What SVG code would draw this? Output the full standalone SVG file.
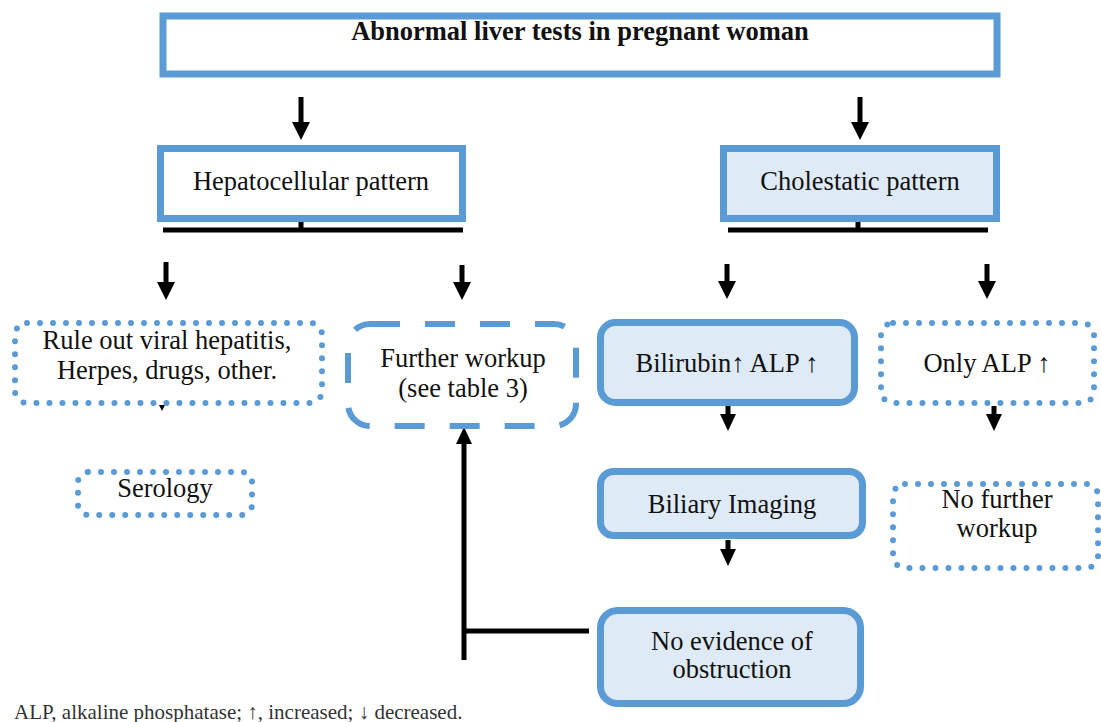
<svg xmlns="http://www.w3.org/2000/svg" width="1101" height="722" viewBox="0 0 1101 722">
<defs>
<style>
.t{font-family:"Liberation Serif","Times New Roman",serif;font-size:26.5px;fill:#111;text-anchor:middle}
.solid{fill:#fff;stroke:#5b9bd5;stroke-width:7}
.filled{fill:#deeaf6;stroke:#5b9bd5;stroke-width:7}
.dot{fill:#fff;stroke:#5b9bd5;stroke-width:6;stroke-dasharray:0 13;stroke-linecap:round}
.dash{fill:#fff;stroke:#5b9bd5;stroke-width:6;stroke-dasharray:30 25}
.c{stroke:#000;stroke-width:5;fill:none}
</style>
<marker id="ah" markerUnits="userSpaceOnUse" markerWidth="18" markerHeight="18" refX="0" refY="9" orient="auto" overflow="visible">
<path d="M0,0 L18,9 L0,18 Z" fill="#000"/>
</marker>
<marker id="ahs" markerUnits="userSpaceOnUse" markerWidth="17" markerHeight="16" refX="0" refY="8" orient="auto" overflow="visible">
<path d="M0,0 L17,8 L0,16 Z" fill="#000"/>
</marker>
</defs>
<rect width="1101" height="722" fill="#fff"/>

<g id="connectors">
<line class="c" x1="301" y1="97" x2="301" y2="122" marker-end="url(#ah)"/>
<line class="c" x1="860" y1="97" x2="860" y2="122" marker-end="url(#ah)"/>
<line class="c" x1="301" y1="222" x2="301" y2="230"/>
<line class="c" x1="163" y1="230" x2="463" y2="230"/>
<line class="c" x1="858" y1="222" x2="858" y2="230"/>
<line class="c" x1="728" y1="230" x2="988" y2="230"/>
<line class="c" x1="166" y1="262" x2="166" y2="282" marker-end="url(#ah)"/>
<line class="c" x1="462" y1="265" x2="462" y2="282" marker-end="url(#ah)"/>
<line class="c" x1="727" y1="264" x2="727" y2="281" marker-end="url(#ah)"/>
<line class="c" x1="987" y1="264" x2="987" y2="281" marker-end="url(#ah)"/>
<path d="M159,405 L165,405 L162,411 Z" fill="#000"/>
<line class="c" x1="728" y1="406" x2="728" y2="414" marker-end="url(#ahs)"/>
<line class="c" x1="994" y1="406" x2="994" y2="414" marker-end="url(#ahs)"/>
<line class="c" x1="728" y1="540" x2="728" y2="549" marker-end="url(#ahs)"/>
<polyline class="c" points="589,631 464,631"/>
<line class="c" x1="464" y1="660" x2="464" y2="444" marker-end="url(#ahs)"/>
</g>

<g id="top">
<rect class="solid" x="163" y="16" width="834" height="58"/>
<text class="t" x="580" y="40" style="font-weight:bold">Abnormal liver tests in pregnant woman</text>
</g>

<g id="hepatocellular">
<rect class="solid" x="160.5" y="148.5" width="302" height="70"/>
<text class="t" x="311" y="190">Hepatocellular pattern</text>
</g>

<g id="cholestatic">
<rect class="filled" x="723.5" y="148.5" width="273" height="70"/>
<text class="t" x="860" y="190">Cholestatic pattern</text>
</g>

<g id="ruleout">
<rect class="dot" x="15" y="323" width="307" height="80" rx="12"/>
<text class="t" x="167" y="349">Rule out viral hepatitis,</text>
<text class="t" x="167" y="379">Herpes, drugs, other.</text>
</g>

<g id="serology">
<rect class="dot" x="78" y="472" width="174" height="43" rx="10"/>
<text class="t" x="165" y="497">Serology</text>
</g>

<g id="further">
<rect class="dash" x="348" y="324" width="228" height="102" rx="22"/>
<text class="t" x="463" y="367">Further workup</text>
<text class="t" x="463" y="397">(see table 3)</text>
</g>

<g id="bilirubin">
<rect class="filled" x="600.5" y="322.5" width="254" height="80" rx="15"/>
<text class="t" x="727" y="372">Bilirubin↑ ALP ↑</text>
</g>

<g id="onlyalp">
<rect class="dot" x="881" y="323" width="213" height="80" rx="12"/>
<text class="t" x="987" y="372">Only ALP ↑</text>
</g>

<g id="biliary">
<rect class="filled" x="600.5" y="471.5" width="262" height="64" rx="13"/>
<text class="t" x="732" y="513">Biliary Imaging</text>
</g>

<g id="nofurther">
<rect class="dot" x="893" y="484" width="205" height="84" rx="12"/>
<text class="t" x="997" y="508">No further</text>
<text class="t" x="997" y="537">workup</text>
</g>

<g id="noevidence">
<rect class="filled" x="600.5" y="610.5" width="260" height="93" rx="17"/>
<text class="t" x="732" y="650">No evidence of</text>
<text class="t" x="732" y="678">obstruction</text>
</g>

<text x="14" y="719" style="font-family:'Liberation Serif','Times New Roman',serif;font-size:21px;fill:#333">ALP, alkaline phosphatase; ↑, increased; ↓ decreased.</text>
</svg>
